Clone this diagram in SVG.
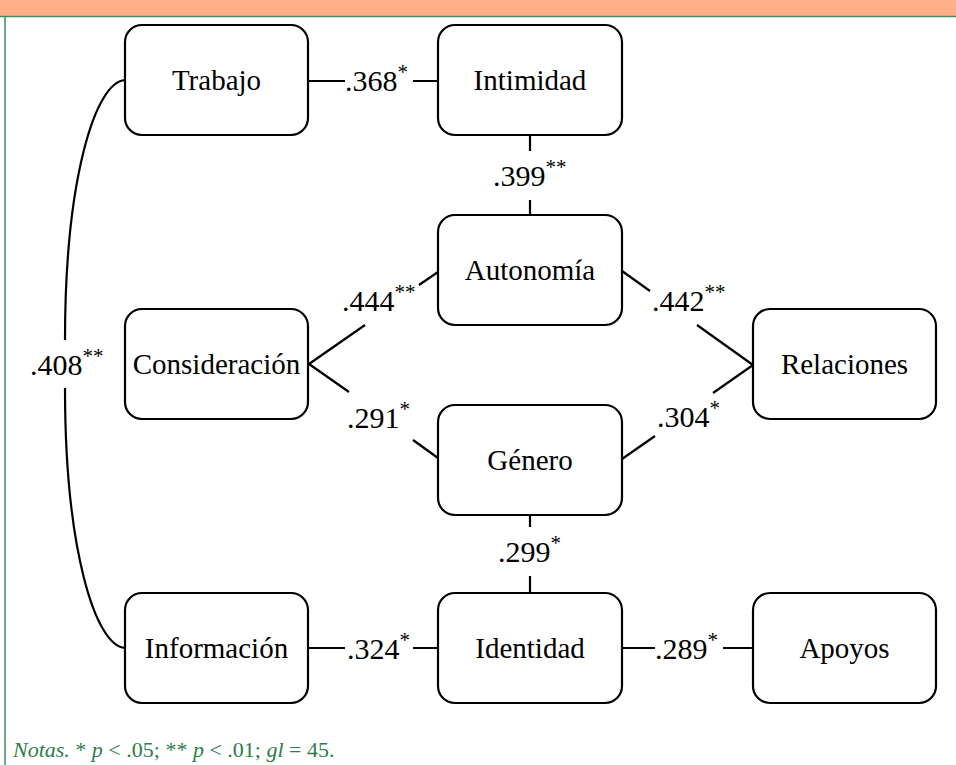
<svg xmlns="http://www.w3.org/2000/svg" width="956" height="765" viewBox="0 0 956 765">
<style>
.box{fill:#fff;stroke:#000;stroke-width:2.2}
.lbl{font-family:"Liberation Serif","Times New Roman",serif;font-size:29px;fill:#000;text-anchor:middle}
.num{font-family:"Liberation Serif","Times New Roman",serif;font-size:30px;fill:#000}
.sup{font-size:21px}
.con{fill:none;stroke:#000;stroke-width:2.2}
.note{font-family:"Liberation Serif","Times New Roman",serif;font-size:22px;fill:#2E7D4A}
</style>
<rect x="0" y="0" width="956" height="16" fill="#FFAE86"/>
<line x1="0" y1="16.5" x2="956" y2="16.5" stroke="#3F8A60" stroke-width="1.5"/>
<line x1="5" y1="16" x2="5" y2="765" stroke="#3F8A60" stroke-width="1.5"/>

<g id="connectors">
<path class="con" d="M309,81H345M413,81H438"/>
<path class="con" d="M530,136V151M530,200V215"/>
<path class="con" d="M438,272L419,285M365,325L309,364"/>
<path class="con" d="M309,364L349,392M413,440L438,458"/>
<path class="con" d="M622,271L650,291M697,325L753,365"/>
<path class="con" d="M753,365L713,393M655,436L622,459"/>
<path class="con" d="M530,515V527M530,576V593"/>
<path class="con" d="M309,648H345M413,648H438"/>
<path class="con" d="M622,648H655M723,648H753"/>
<path class="con" d="M125,80C95,82 65,180 65,340M65,388C65,548 95,646 125,648"/>
<text class="num" x="345" y="91">.368<tspan class="sup" dy="-12">*</tspan></text>
<text class="num" x="493" y="186">.399<tspan class="sup" dy="-12">**</tspan></text>
<text class="num" x="342" y="311">.444<tspan class="sup" dy="-12">**</tspan></text>
<text class="num" x="347" y="428">.291<tspan class="sup" dy="-12">*</tspan></text>
<text class="num" x="652" y="311">.442<tspan class="sup" dy="-12">**</tspan></text>
<text class="num" x="657" y="427">.304<tspan class="sup" dy="-12">*</tspan></text>
<text class="num" x="498" y="562">.299<tspan class="sup" dy="-12">*</tspan></text>
<text class="num" x="347" y="659">.324<tspan class="sup" dy="-12">*</tspan></text>
<text class="num" x="655" y="659">.289<tspan class="sup" dy="-12">*</tspan></text>
<text class="num" x="30" y="375">.408<tspan class="sup" dy="-12">**</tspan></text>
</g>

<g id="trabajo"><rect class="box" x="125" y="25" width="183" height="110" rx="17"/><text class="lbl" x="216.5" y="90">Trabajo</text></g>
<g id="intimidad"><rect class="box" x="438" y="25" width="184" height="110" rx="17"/><text class="lbl" x="530" y="90">Intimidad</text></g>
<g id="autonomia"><rect class="box" x="438" y="215" width="184" height="110" rx="17"/><text class="lbl" x="530" y="280">Autonomía</text></g>
<g id="consideracion"><rect class="box" x="125" y="309" width="183" height="110" rx="17"/><text class="lbl" x="216.5" y="374">Consideración</text></g>
<g id="relaciones"><rect class="box" x="753" y="309" width="183" height="110" rx="17"/><text class="lbl" x="844.5" y="374">Relaciones</text></g>
<g id="genero"><rect class="box" x="438" y="405" width="184" height="110" rx="17"/><text class="lbl" x="530" y="470">Género</text></g>
<g id="informacion"><rect class="box" x="125" y="593" width="183" height="110" rx="17"/><text class="lbl" x="216.5" y="658">Información</text></g>
<g id="identidad"><rect class="box" x="438" y="593" width="184" height="110" rx="17"/><text class="lbl" x="530" y="658">Identidad</text></g>
<g id="apoyos"><rect class="box" x="753" y="593" width="183" height="110" rx="17"/><text class="lbl" x="844.5" y="658">Apoyos</text></g>

<text class="note" x="13" y="757"><tspan font-style="italic">Notas.</tspan> * <tspan font-style="italic">p</tspan> &lt; .05; ** <tspan font-style="italic">p</tspan> &lt; .01; <tspan font-style="italic">gl</tspan> = 45.</text>
</svg>
